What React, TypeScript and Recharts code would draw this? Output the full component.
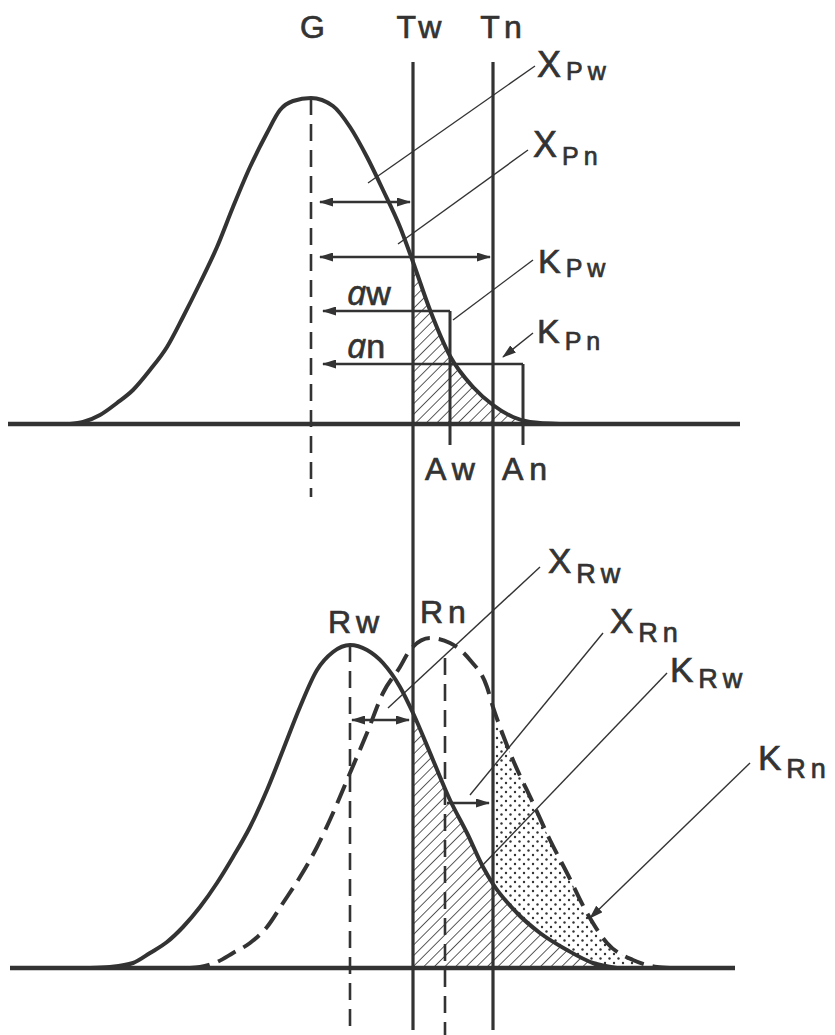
import React from 'react'
import {
  Area,
  ComposedChart,
  Line,
  ReferenceDot,
  ReferenceLine,
  XAxis,
  YAxis,
} from 'recharts'

type Pt = { x: number; y: number }

// Positions on the measuring axis (1 unit ~ 10 px of the original figure)
const G_POS = 31.1
const TW_POS = 41.3
const TN_POS = 49.3
const AW_POS = 45.0
const AN_POS = 52.3
const RW_POS = 35.0
const RN_POS = 44.5

// Upper panel: distribution around G
const pCurve: Pt[] = [
  { x: 7.0, y: 0 }, { x: 8.3, y: 0.2 }, { x: 10.0, y: 0.9 }, { x: 11.7, y: 2.1 },
  { x: 13.3, y: 3.4 }, { x: 15.0, y: 5.4 }, { x: 16.7, y: 7.7 }, { x: 18.3, y: 10.7 },
  { x: 20.0, y: 14.1 }, { x: 21.7, y: 17.7 }, { x: 23.3, y: 21.7 }, { x: 25.0, y: 25.7 },
  { x: 26.7, y: 29.1 }, { x: 28.0, y: 31.4 }, { x: 29.3, y: 32.3 }, { x: 31.1, y: 32.6 },
  { x: 33.3, y: 31.8 }, { x: 35.0, y: 29.7 }, { x: 36.7, y: 26.7 }, { x: 38.3, y: 23.4 },
  { x: 40.0, y: 19.7 }, { x: 41.3, y: 16.2 }, { x: 43.0, y: 11.4 }, { x: 45.0, y: 6.8 },
  { x: 47.3, y: 3.7 }, { x: 49.3, y: 1.9 }, { x: 51.3, y: 0.7 }, { x: 53.0, y: 0.2 },
  { x: 56.0, y: 0 },
]

// Lower panel: Rw (solid) and Rn (dashed) distributions
const rwCurve: Pt[] = [
  { x: 9.0, y: 0 }, { x: 11.0, y: 0.1 }, { x: 13.3, y: 0.5 }, { x: 15.0, y: 1.5 },
  { x: 16.7, y: 2.6 }, { x: 18.3, y: 4.1 }, { x: 20.0, y: 6.1 }, { x: 21.7, y: 8.5 },
  { x: 23.3, y: 11.1 }, { x: 25.0, y: 14.1 }, { x: 26.7, y: 17.8 }, { x: 28.3, y: 21.8 },
  { x: 30.0, y: 26.1 }, { x: 31.7, y: 29.8 }, { x: 33.3, y: 31.6 }, { x: 35.0, y: 32.3 },
  { x: 36.7, y: 31.8 }, { x: 38.3, y: 30.5 }, { x: 40.0, y: 28.1 }, { x: 41.3, y: 25.5 },
  { x: 43.3, y: 20.8 }, { x: 45.0, y: 16.8 }, { x: 46.7, y: 13.5 }, { x: 48.3, y: 10.1 },
  { x: 49.3, y: 8.4 }, { x: 51.7, y: 5.5 }, { x: 54.0, y: 3.5 }, { x: 56.7, y: 1.8 },
  { x: 59.3, y: 0.5 }, { x: 61.7, y: 0 },
]

const rnCurve: Pt[] = [
  { x: 19.0, y: 0 }, { x: 20.0, y: 0.1 }, { x: 21.7, y: 0.6 }, { x: 23.3, y: 1.5 },
  { x: 25.0, y: 2.5 }, { x: 26.7, y: 4.1 }, { x: 28.3, y: 6.5 }, { x: 30.0, y: 9.1 },
  { x: 31.7, y: 12.1 }, { x: 33.3, y: 15.5 }, { x: 35.0, y: 19.5 }, { x: 36.7, y: 23.5 },
  { x: 38.3, y: 27.5 }, { x: 40.0, y: 30.1 }, { x: 41.0, y: 31.8 }, { x: 43.0, y: 33.0 },
  { x: 45.0, y: 32.5 }, { x: 47.0, y: 30.8 }, { x: 48.7, y: 28.1 }, { x: 49.3, y: 26.1 },
  { x: 50.0, y: 24.1 }, { x: 51.3, y: 20.8 }, { x: 53.3, y: 16.5 }, { x: 55.0, y: 12.8 },
  { x: 56.7, y: 9.5 }, { x: 58.7, y: 5.5 }, { x: 60.7, y: 2.5 }, { x: 63.3, y: 0.8 },
  { x: 65.7, y: 0.1 }, { x: 67.0, y: 0 },
]

// heights of the horizontal arrows
const XPW_LEVEL = 22.2
const XPN_LEVEL = 16.7
const AW_LEVEL = 11.3
const AN_LEVEL = 6.0
const XRW_LEVEL = 24.8
const XRN_LEVEL = 16.5

const W = 835
const TOP_H = 520
const BOT_H = 515
const X_DOMAIN: [number, number] = [0, 83.5]
const TOP_Y: [number, number] = [-9.6, 42.4]
const BOT_Y: [number, number] = [-6.7, 44.8]

const INK = '#333333'
const FONT = '"Liberation Sans", Arial, Helvetica, sans-serif'

type Seg = {
  a: [number, number]
  b: [number, number]
  w: number
  dash?: string
  start?: boolean
  end?: boolean
}

type Lbl = {
  x: number
  y: number
  text: string
  size: number
  sub?: string
  subSize?: number
  subDy?: number
  anchor?: 'start' | 'middle'
  spacing?: number
  italicLead?: boolean
}

const topSegs: Seg[] = [
  { a: [0.8, 0], b: [74.0, 0], w: 4.5 },
  { a: [TW_POS, 36.2], b: [TW_POS, TOP_Y[0]], w: 3.2 },
  { a: [TN_POS, 36.2], b: [TN_POS, TOP_Y[0]], w: 3.2 },
  { a: [G_POS, 32.6], b: [G_POS, -7.3], w: 2.6, dash: '17 9' },
  { a: [AW_POS, AW_LEVEL], b: [AW_POS, -2.1], w: 3 },
  { a: [AN_POS, AN_LEVEL], b: [AN_POS, -2.1], w: 3 },
  { a: [32.0, XPW_LEVEL], b: [41.0, XPW_LEVEL], w: 2.6, start: true, end: true },
  { a: [32.0, XPN_LEVEL], b: [49.0, XPN_LEVEL], w: 2.6, start: true, end: true },
  { a: [AW_POS, AW_LEVEL], b: [32.3, AW_LEVEL], w: 2.6, end: true },
  { a: [AN_POS, AN_LEVEL], b: [32.3, AN_LEVEL], w: 2.6, end: true },
  // leaders
  { a: [53.5, 35.8], b: [36.8, 24.1], w: 1.4 },
  { a: [52.8, 27.4], b: [39.8, 18.0], w: 1.4 },
  { a: [53.3, 16.4], b: [45.3, 10.4], w: 1.4 },
  { a: [53.3, 9.1], b: [50.3, 6.7], w: 1.4, end: true },
]

const botSegs: Seg[] = [
  { a: [1.0, 0], b: [73.5, 0], w: 4.5 },
  { a: [TW_POS, BOT_Y[1]], b: [TW_POS, -6.2], w: 3.2 },
  { a: [TN_POS, BOT_Y[1]], b: [TN_POS, -6.2], w: 3.2 },
  { a: [RW_POS, 32.3], b: [RW_POS, BOT_Y[0]], w: 2.6, dash: '17 9' },
  { a: [RN_POS, 31.0], b: [RN_POS, BOT_Y[0]], w: 2.6, dash: '17 9' },
  { a: [35.2, XRW_LEVEL], b: [40.9, XRW_LEVEL], w: 2.6, start: true, end: true },
  { a: [44.7, XRN_LEVEL], b: [48.9, XRN_LEVEL], w: 2.6, end: true },
  // leaders
  { a: [54.0, 40.1], b: [38.8, 26.0], w: 1.4 },
  { a: [60.3, 33.5], b: [47.0, 17.3], w: 1.4 },
  { a: [66.7, 29.5], b: [47.8, 9.8], w: 1.4 },
  { a: [75.0, 20.5], b: [59.0, 5.0], w: 1.4, end: true },
]

const topLabels: Lbl[] = [
  { x: 31.25, y: 38.6, text: 'G', size: 32, anchor: 'middle' },
  { x: 42.1, y: 38.6, text: 'Tw', size: 32, anchor: 'middle', spacing: 4 },
  { x: 50.3, y: 38.6, text: 'Tn', size: 32, anchor: 'middle', spacing: 4 },
  { x: 53.7, y: 34.7, text: 'X', size: 36, sub: 'Pw', subSize: 25, subDy: 3 },
  { x: 53.3, y: 26.7, text: 'X', size: 36, sub: 'Pn', subSize: 25, subDy: 8 },
  { x: 53.8, y: 15.1, text: 'K', size: 34, sub: 'Pw', subSize: 25, subDy: 4 },
  { x: 53.7, y: 8.1, text: 'K', size: 34, sub: 'Pn', subSize: 25, subDy: 7 },
  { x: 34.7, y: 11.9, text: 'w', size: 34, italicLead: true },
  { x: 34.7, y: 6.6, text: 'n', size: 34, italicLead: true },
  { x: 42.5, y: -5.6, text: 'Aw', size: 32, spacing: 6 },
  { x: 50.2, y: -5.6, text: 'An', size: 32, spacing: 6 },
]

const botLabels: Lbl[] = [
  { x: 32.8, y: 33.5, text: 'Rw', size: 32, spacing: 5 },
  { x: 42.0, y: 34.5, text: 'Rn', size: 32, spacing: 5 },
  { x: 54.8, y: 39.5, text: 'X', size: 35, sub: 'Rw', subSize: 27, subDy: 10 },
  { x: 61.0, y: 33.5, text: 'X', size: 35, sub: 'Rn', subSize: 27, subDy: 9 },
  { x: 67.0, y: 28.6, text: 'K', size: 35, sub: 'Rw', subSize: 27, subDy: 6 },
  { x: 75.8, y: 19.8, text: 'K', size: 35, sub: 'Rn', subSize: 27, subDy: 8 },
]

function segShape(s: Seg, markerId: string) {
  return (p: any) => (
    <line
      x1={p.x1}
      y1={p.y1}
      x2={p.x2}
      y2={p.y2}
      stroke={INK}
      strokeWidth={s.w}
      strokeDasharray={s.dash}
      fill="none"
      markerStart={s.start ? `url(#${markerId})` : undefined}
      markerEnd={s.end ? `url(#${markerId})` : undefined}
    />
  )
}

function renderSegs(segs: Seg[], markerId: string) {
  return segs.map((s, i) => (
    <ReferenceLine
      key={`${markerId}-seg-${i}`}
      segment={[
        { x: s.a[0], y: s.a[1] },
        { x: s.b[0], y: s.b[1] },
      ]}
      ifOverflow="visible"
      shape={segShape(s, markerId)}
    />
  ))
}

function renderLabels(labels: Lbl[], prefix: string) {
  return labels.map((l, i) => (
    <ReferenceDot
      key={`${prefix}-lbl-${i}`}
      x={l.x}
      y={l.y}
      r={0}
      ifOverflow="visible"
      shape={(p: any) => (
        <text
          x={p.cx}
          y={p.cy}
          fill={INK}
          stroke={INK}
          strokeWidth={0.7}
          fontFamily={FONT}
          fontSize={l.size}
          textAnchor={l.anchor ?? 'start'}
          letterSpacing={l.spacing ?? 0}
        >
          {l.italicLead ? (
            <tspan fontFamily='"Open Sans", sans-serif' fontStyle="italic">
              a
            </tspan>
          ) : null}
          <tspan>{l.text}</tspan>
          {l.sub ? (
            <tspan fontSize={l.subSize} dx={5} dy={l.subDy ?? 6} letterSpacing={5}>
              {l.sub}
            </tspan>
          ) : null}
        </text>
      )}
    />
  ))
}

function Defs({ id }: { id: string }) {
  return (
    <defs>
      <marker
        id={`arrow-${id}`}
        viewBox="0 0 14 9"
        refX={13}
        refY={4.5}
        markerWidth={14}
        markerHeight={9}
        markerUnits="userSpaceOnUse"
        orient="auto-start-reverse"
      >
        <path d="M0,0 L14,4.5 L0,9 z" fill={INK} />
      </marker>
      <pattern
        id={`hatch-${id}`}
        patternUnits="userSpaceOnUse"
        width={7.5}
        height={7.5}
        patternTransform="rotate(45)"
      >
        <rect width={7.5} height={7.5} fill="#ffffff" />
        <line x1={0} y1={0} x2={0} y2={7.5} stroke={INK} strokeWidth={1.6} />
      </pattern>
      <pattern id={`dots-${id}`} patternUnits="userSpaceOnUse" width={9} height={9}>
        <circle cx={2} cy={2} r={1.2} fill={INK} />
        <circle cx={6.5} cy={6.5} r={1.2} fill={INK} />
      </pattern>
    </defs>
  )
}

export default function App() {
  const pTail = pCurve.filter((p) => p.x >= TW_POS)
  const rwTail = rwCurve.filter((p) => p.x >= TW_POS)
  const rnTail = rnCurve.filter((p) => p.x >= TN_POS)
  const margin = { top: 0, right: 0, bottom: 0, left: 0 }

  return (
    <div
      style={{
        position: 'absolute',
        left: 0,
        top: 0,
        width: W,
        height: TOP_H + BOT_H,
        background: '#ffffff',
      }}
    >
      <ComposedChart width={W} height={TOP_H} margin={margin}>
        <Defs id="top" />
        <XAxis type="number" dataKey="x" domain={X_DOMAIN} hide allowDataOverflow />
        <YAxis type="number" dataKey="y" domain={TOP_Y} hide allowDataOverflow />
        <Area
          data={pTail}
          dataKey="y"
          type="monotone"
          stroke="none"
          fill="url(#hatch-top)"
          fillOpacity={1}
          baseValue={0}
          isAnimationActive={false}
        />
        <Line
          data={pCurve}
          dataKey="y"
          type="monotone"
          stroke={INK}
          strokeWidth={4}
          dot={false}
          activeDot={false}
          isAnimationActive={false}
        />
        {renderSegs(topSegs, 'arrow-top')}
        {renderLabels(topLabels, 'top')}
      </ComposedChart>
      <ComposedChart width={W} height={BOT_H} margin={margin}>
        <Defs id="bot" />
        <XAxis type="number" dataKey="x" domain={X_DOMAIN} hide allowDataOverflow />
        <YAxis type="number" dataKey="y" domain={BOT_Y} hide allowDataOverflow />
        <Area
          data={rnTail}
          dataKey="y"
          type="monotone"
          stroke="none"
          fill="url(#dots-bot)"
          fillOpacity={1}
          baseValue={0}
          isAnimationActive={false}
        />
        <Area
          data={rwTail}
          dataKey="y"
          type="monotone"
          stroke="none"
          fill="url(#hatch-bot)"
          fillOpacity={1}
          baseValue={0}
          isAnimationActive={false}
        />
        <Line
          data={rnCurve}
          dataKey="y"
          type="monotone"
          stroke={INK}
          strokeWidth={4}
          strokeDasharray="20 9"
          dot={false}
          activeDot={false}
          isAnimationActive={false}
        />
        <Line
          data={rwCurve}
          dataKey="y"
          type="monotone"
          stroke={INK}
          strokeWidth={4}
          dot={false}
          activeDot={false}
          isAnimationActive={false}
        />
        {renderSegs(botSegs, 'arrow-bot')}
        {renderLabels(botLabels, 'bot')}
      </ComposedChart>
    </div>
  )
}
